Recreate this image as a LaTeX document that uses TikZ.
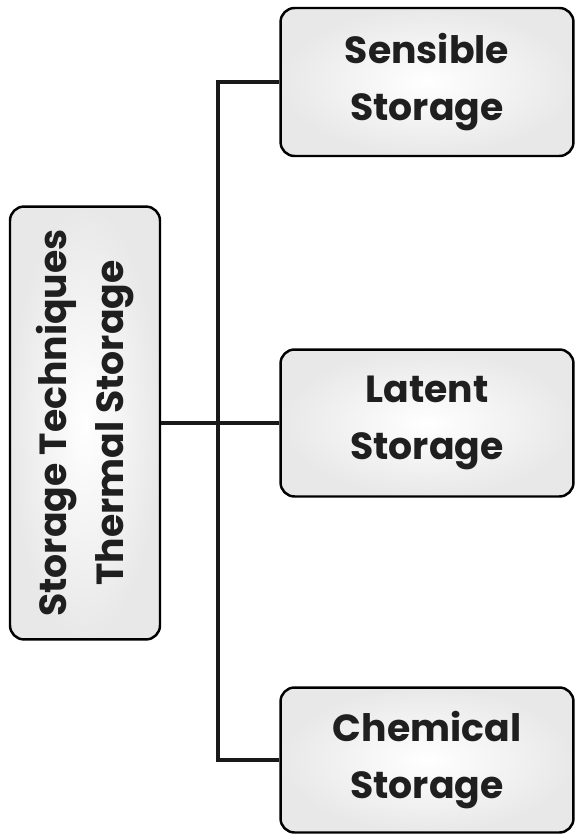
\documentclass[tikz,border=0pt]{standalone}
\usepackage{fontspec}
\setmainfont{Poppins}
\usetikzlibrary{positioning}

\tikzset{
    storebox/.style={draw=black, line width=1.4pt, rounded corners=8pt,
        inner color=white, outer color=black!9,
        text=black!88, font=\bfseries\fontsize{21.5}{32}\selectfont, align=center},
    link/.style={line width=2.1pt, black!90}
}

\begin{document}
\begin{tikzpicture}[x=0.02cm, y=-0.02cm]
    \useasboundingbox (0,0) rectangle (575,836);

    % main box, text turned upright
    \node[storebox, rotate=90, minimum width=8.66cm, minimum height=3cm] (thermal) at (85,423)
        {Storage Techniques\\Thermal Storage};

    % the three kinds
    \node[storebox, minimum width=5.86cm, minimum height=2.96cm] (sensible) at (427,82) {Sensible\\Storage};
    \node[storebox, minimum width=5.86cm, minimum height=2.94cm] (latent) at (427,423) {Latent\\Storage};
    \node[storebox, minimum width=5.86cm, minimum height=2.9cm] (chemical) at (427,760) {Chemical\\Storage};

    \coordinate (trunk) at (218,423);

    \draw[link] (thermal.south) -- (latent.west);
    \draw[link] (sensible.west) -- (sensible.west -| trunk) |- (chemical.west);
\end{tikzpicture}
\end{document}
